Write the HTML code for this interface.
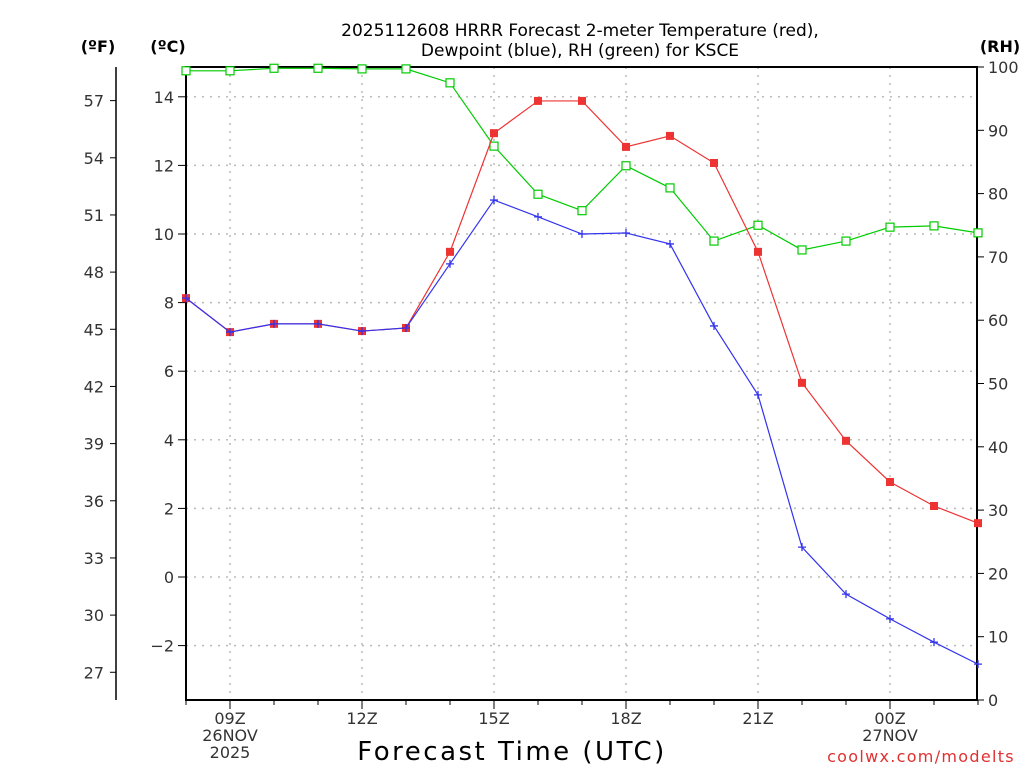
<!DOCTYPE html>
<html><head><meta charset="utf-8"><style>
body{margin:0;background:#fff}
svg text{font-family:"DejaVu Sans","Liberation Sans",sans-serif;}
</style></head><body>
<svg id="c" width="1024" height="768" xmlns="http://www.w3.org/2000/svg">
<text x="580" y="36" text-anchor="middle" font-size="17">2025112608 HRRR Forecast 2-meter Temperature (red),</text>
<text x="580" y="56" text-anchor="middle" font-size="17">Dewpoint (blue), RH (green) for KSCE</text>
<text x="98" y="52" text-anchor="middle" font-size="16" font-weight="bold">(ºF)</text>
<text x="168" y="52" text-anchor="middle" font-size="16" font-weight="bold">(ºC)</text>
<text x="1000" y="52" text-anchor="middle" font-size="16" font-weight="bold">(RH)</text>
<text x="512" y="760" text-anchor="middle" font-size="26" letter-spacing="2.5">Forecast Time (UTC)</text>
<text x="921" y="762" text-anchor="middle" font-size="16" letter-spacing="1.3" fill="#e03030">coolwx.com/modelts</text>
<g id="grid"></g><g id="axes"></g><g id="series"></g>
</svg>
<script>
const hours=[8,9,10,11,12,13,14,15,16,17,18,19,20,21,22,23,24,25,26];
const tempC=[8.13,7.14,7.38,7.38,7.17,7.26,9.48,12.94,13.88,13.88,12.54,12.86,12.07,9.48,5.66,3.97,2.77,2.07,1.57];
const dewC=[8.13,7.14,7.38,7.38,7.17,7.26,9.13,10.99,10.5,10.0,10.03,9.71,7.32,5.31,0.87,-0.5,-1.22,-1.9,-2.54];
const rh=[99.4,99.4,99.8,99.8,99.7,99.7,97.5,87.5,79.9,77.3,84.4,80.9,72.5,75.0,71.1,72.5,74.7,74.9,73.8];
const cTicks=[-2,0,2,4,6,8,10,12,14];
const fTicks=[27,30,33,36,39,42,45,48,51,54,57];
const rhTicks=[0,10,20,30,40,50,60,70,80,90,100];
const xLabels=[[9,"09Z","26NOV","2025"],[12,"12Z"],[15,"15Z"],[18,"18Z"],[21,"21Z"],[24,"00Z","27NOV"]];
const L=186,R=977,T=67,B=700;
const x=h=>L+(h-8)*44;
const yC=c=>577-c*34.3;
const yF=f=>yC((f-32)/1.8);
const yR=v=>B-v*(B-T)/100;
const NS="http://www.w3.org/2000/svg";
function mk(p,tag,a){const e=document.createElementNS(NS,tag);for(const k in a)e.setAttribute(k,a[k]);p.appendChild(e);return e;}
const g=document.getElementById('grid'),ax=document.getElementById('axes'),s=document.getElementById('series');
cTicks.forEach(c=>{const l=mk(g,'line',{x1:L,x2:R,y1:yC(c),y2:yC(c),stroke:'#bbb','stroke-dasharray':'2,6','stroke-width':1.5});

mk(ax,'line',{x1:L-8,x2:L,y1:yC(c),y2:yC(c),stroke:'#000'});
const t=mk(ax,'text',{x:L-12,y:yC(c)+6,'text-anchor':'end','font-size':16,fill:'#333'});t.textContent=c<0?'\u2212'+(-c):c;
});
fTicks.forEach(f=>{mk(ax,'line',{x1:110,x2:116,y1:yF(f),y2:yF(f),stroke:'#000'});
const t=mk(ax,'text',{x:104,y:yF(f)+6,'text-anchor':'end','font-size':16,fill:'#333'});t.textContent=f;
});
rhTicks.forEach(v=>{mk(ax,'line',{x1:R,x2:R+7,y1:yR(v),y2:yR(v),stroke:'#000'});
const t=mk(ax,'text',{x:988,y:yR(v)+6,'font-size':16,fill:'#333'});t.textContent=v;
});
hours.forEach(h=>{mk(ax,'line',{x1:x(h),x2:x(h),y1:B,y2:B+5,stroke:'#000'});});
xLabels.forEach(d=>{const xx=x(d[0]);
const l=mk(g,'line',{x1:xx,x2:xx,y1:T,y2:B,stroke:'#bbb','stroke-dasharray':'2,6','stroke-width':1.5});

mk(ax,'line',{x1:xx,x2:xx,y1:B,y2:B+9,stroke:'#000'});
d.slice(1).forEach((txt,i)=>{const t=mk(ax,'text',{x:xx,y:B+24+i*17,'text-anchor':'middle','font-size':16,fill:'#333'});t.textContent=txt;
});});
const fa=mk(ax,'line',{x1:116,x2:116,y1:T,y2:B,stroke:'#000','stroke-width':1.5});

const box=mk(ax,'rect',{x:L,y:T,width:R-L,height:B-T,fill:'none',stroke:'#000','stroke-width':2});

function series(vals,yf,color,name,marker){
const pts=vals.map((v,i)=>[x(hours[i]),yf(v)]);
const pl=mk(s,'polyline',{points:pts.map(p=>p.join(',')).join(' '),fill:'none',stroke:color,'stroke-width':1.2});

pts.forEach(p=>{let m;
if(marker==='sq')m=mk(s,'rect',{x:p[0]-4,y:p[1]-4,width:8,height:8,fill:color});
else if(marker==='open')m=mk(s,'rect',{x:p[0]-4,y:p[1]-4,width:8,height:8,fill:'#fff',stroke:color,'stroke-width':1.2});
else m=mk(s,'path',{d:`M${p[0]-4},${p[1]}h8M${p[0]},${p[1]-4}v8`,stroke:color,'stroke-width':1.3});
});}
series(rh,yR,'#00cc00','rh','open');
series(tempC,yC,'#ee3333','temperature','sq');
series(dewC,yC,'#3333ee','dewpoint','plus');
</script>
</body></html>
